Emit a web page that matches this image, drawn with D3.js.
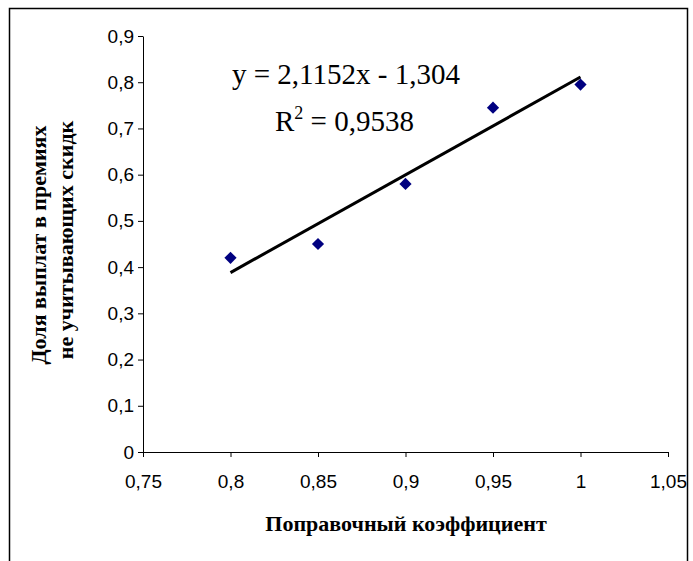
<!DOCTYPE html>
<html>
<head>
<meta charset="utf-8">
<script src="https://cdn.jsdelivr.net/npm/d3@7"></script>
<style>
  body { margin: 0; background: #fff; }
  .tick text { font-family: "Liberation Sans", Arial, sans-serif; font-size: 19px; fill: #000; }
  .title { font-family: "Liberation Serif", "Times New Roman", serif; font-weight: bold; font-size: 22px; }
  .eq { font-family: "Liberation Serif", "Times New Roman", serif; font-size: 29px; }
</style>
</head>
<body>
<div id="chart"></div>
<script>
// data
var koef = [0.8, 0.85, 0.9, 0.95, 1.0];
var dolya = [0.42, 0.45, 0.58, 0.745, 0.795];
var xTicks = [0.75, 0.8, 0.85, 0.9, 0.95, 1.0, 1.05];
var yTicks = [0, 0.1, 0.2, 0.3, 0.4, 0.5, 0.6, 0.7, 0.8, 0.9];
var slope = 2.1152, intercept = -1.304;
var eqText = "y = 2,1152x - 1,304";
var r2Text = "0,9538";

var width = 693, height = 561;
var margin = { top: 36, right: 25, bottom: 109, left: 143 };

var svg = d3.select("#chart")
    .append("svg")
    .attr("width", width)
    .attr("height", height);

// outer frame (bottom edge is cut off in the picture)
svg.append("path")
    .attr("d", "M9.5,600 V8.5 H687.5 V600")
    .attr("fill", "none")
    .attr("stroke", "#000")
    .attr("stroke-width", 1.5);

var g = svg.append("g")
    .attr("transform", "translate(" + margin.left + "," + margin.top + ")");
var w = width - margin.left - margin.right,
    h = height - margin.top - margin.bottom;

var fmt = function (d) { return String(+d.toFixed(2)).replace(".", ","); };

var x = d3.scaleLinear().domain([0.75, 1.05]).range([0, w]);
var y = d3.scaleLinear().domain([0, 0.9]).range([h, 0]);

// axes
var xAxis = g.append("g")
    .attr("transform", "translate(0," + h + ")")
    .call(d3.axisBottom(x).tickValues(xTicks).tickFormat(fmt).tickSize(5).tickSizeOuter(0));
xAxis.selectAll(".tick text").attr("dy", "1.45em");

var yAxis = g.append("g")
    .call(d3.axisLeft(y).tickValues(yTicks).tickFormat(fmt).tickSize(5).tickSizeOuter(0));
yAxis.selectAll(".tick text").attr("x", -9);

g.selectAll(".domain, .tick line").attr("stroke", "#000");

// trend line
g.append("path")
    .datum([koef[0], koef[koef.length - 1]])
    .attr("fill", "none")
    .attr("stroke", "#000")
    .attr("stroke-width", 3)
    .attr("d", d3.line()
        .x(function (d) { return x(d); })
        .y(function (d) { return y(slope * d + intercept); }));

// points
g.append("g")
    .selectAll("path")
    .data(koef)
    .enter()
    .append("path")
    .attr("transform", function (d, i) { return "translate(" + x(d) + "," + y(dolya[i]) + ")"; })
    .attr("d", d3.symbol().type(d3.symbolDiamond2).size(95))
    .attr("fill", "#000080");

// equation
svg.append("text")
    .attr("class", "eq")
    .attr("x", 232)
    .attr("y", 84)
    .text(eqText);
var r2 = svg.append("text")
    .attr("class", "eq")
    .attr("x", 275)
    .attr("y", 131);
r2.append("tspan").text("R");
r2.append("tspan").attr("dy", -12).attr("font-size", 18).text("2");
r2.append("tspan").attr("dy", 12).text(" = " + r2Text);

// axis titles
svg.append("text")
    .attr("class", "title")
    .attr("text-anchor", "middle")
    .attr("x", 406)
    .attr("y", 531)
    .text("Поправочный коэффициент");

svg.append("text")
    .attr("class", "title")
    .attr("text-anchor", "middle")
    .attr("transform", "translate(46,245) rotate(-90)")
    .text("Доля выплат в премиях");
svg.append("text")
    .attr("class", "title")
    .attr("text-anchor", "middle")
    .attr("transform", "translate(73,240) rotate(-90)")
    .text("не учитывающих скидк");
</script>
</body>
</html>
